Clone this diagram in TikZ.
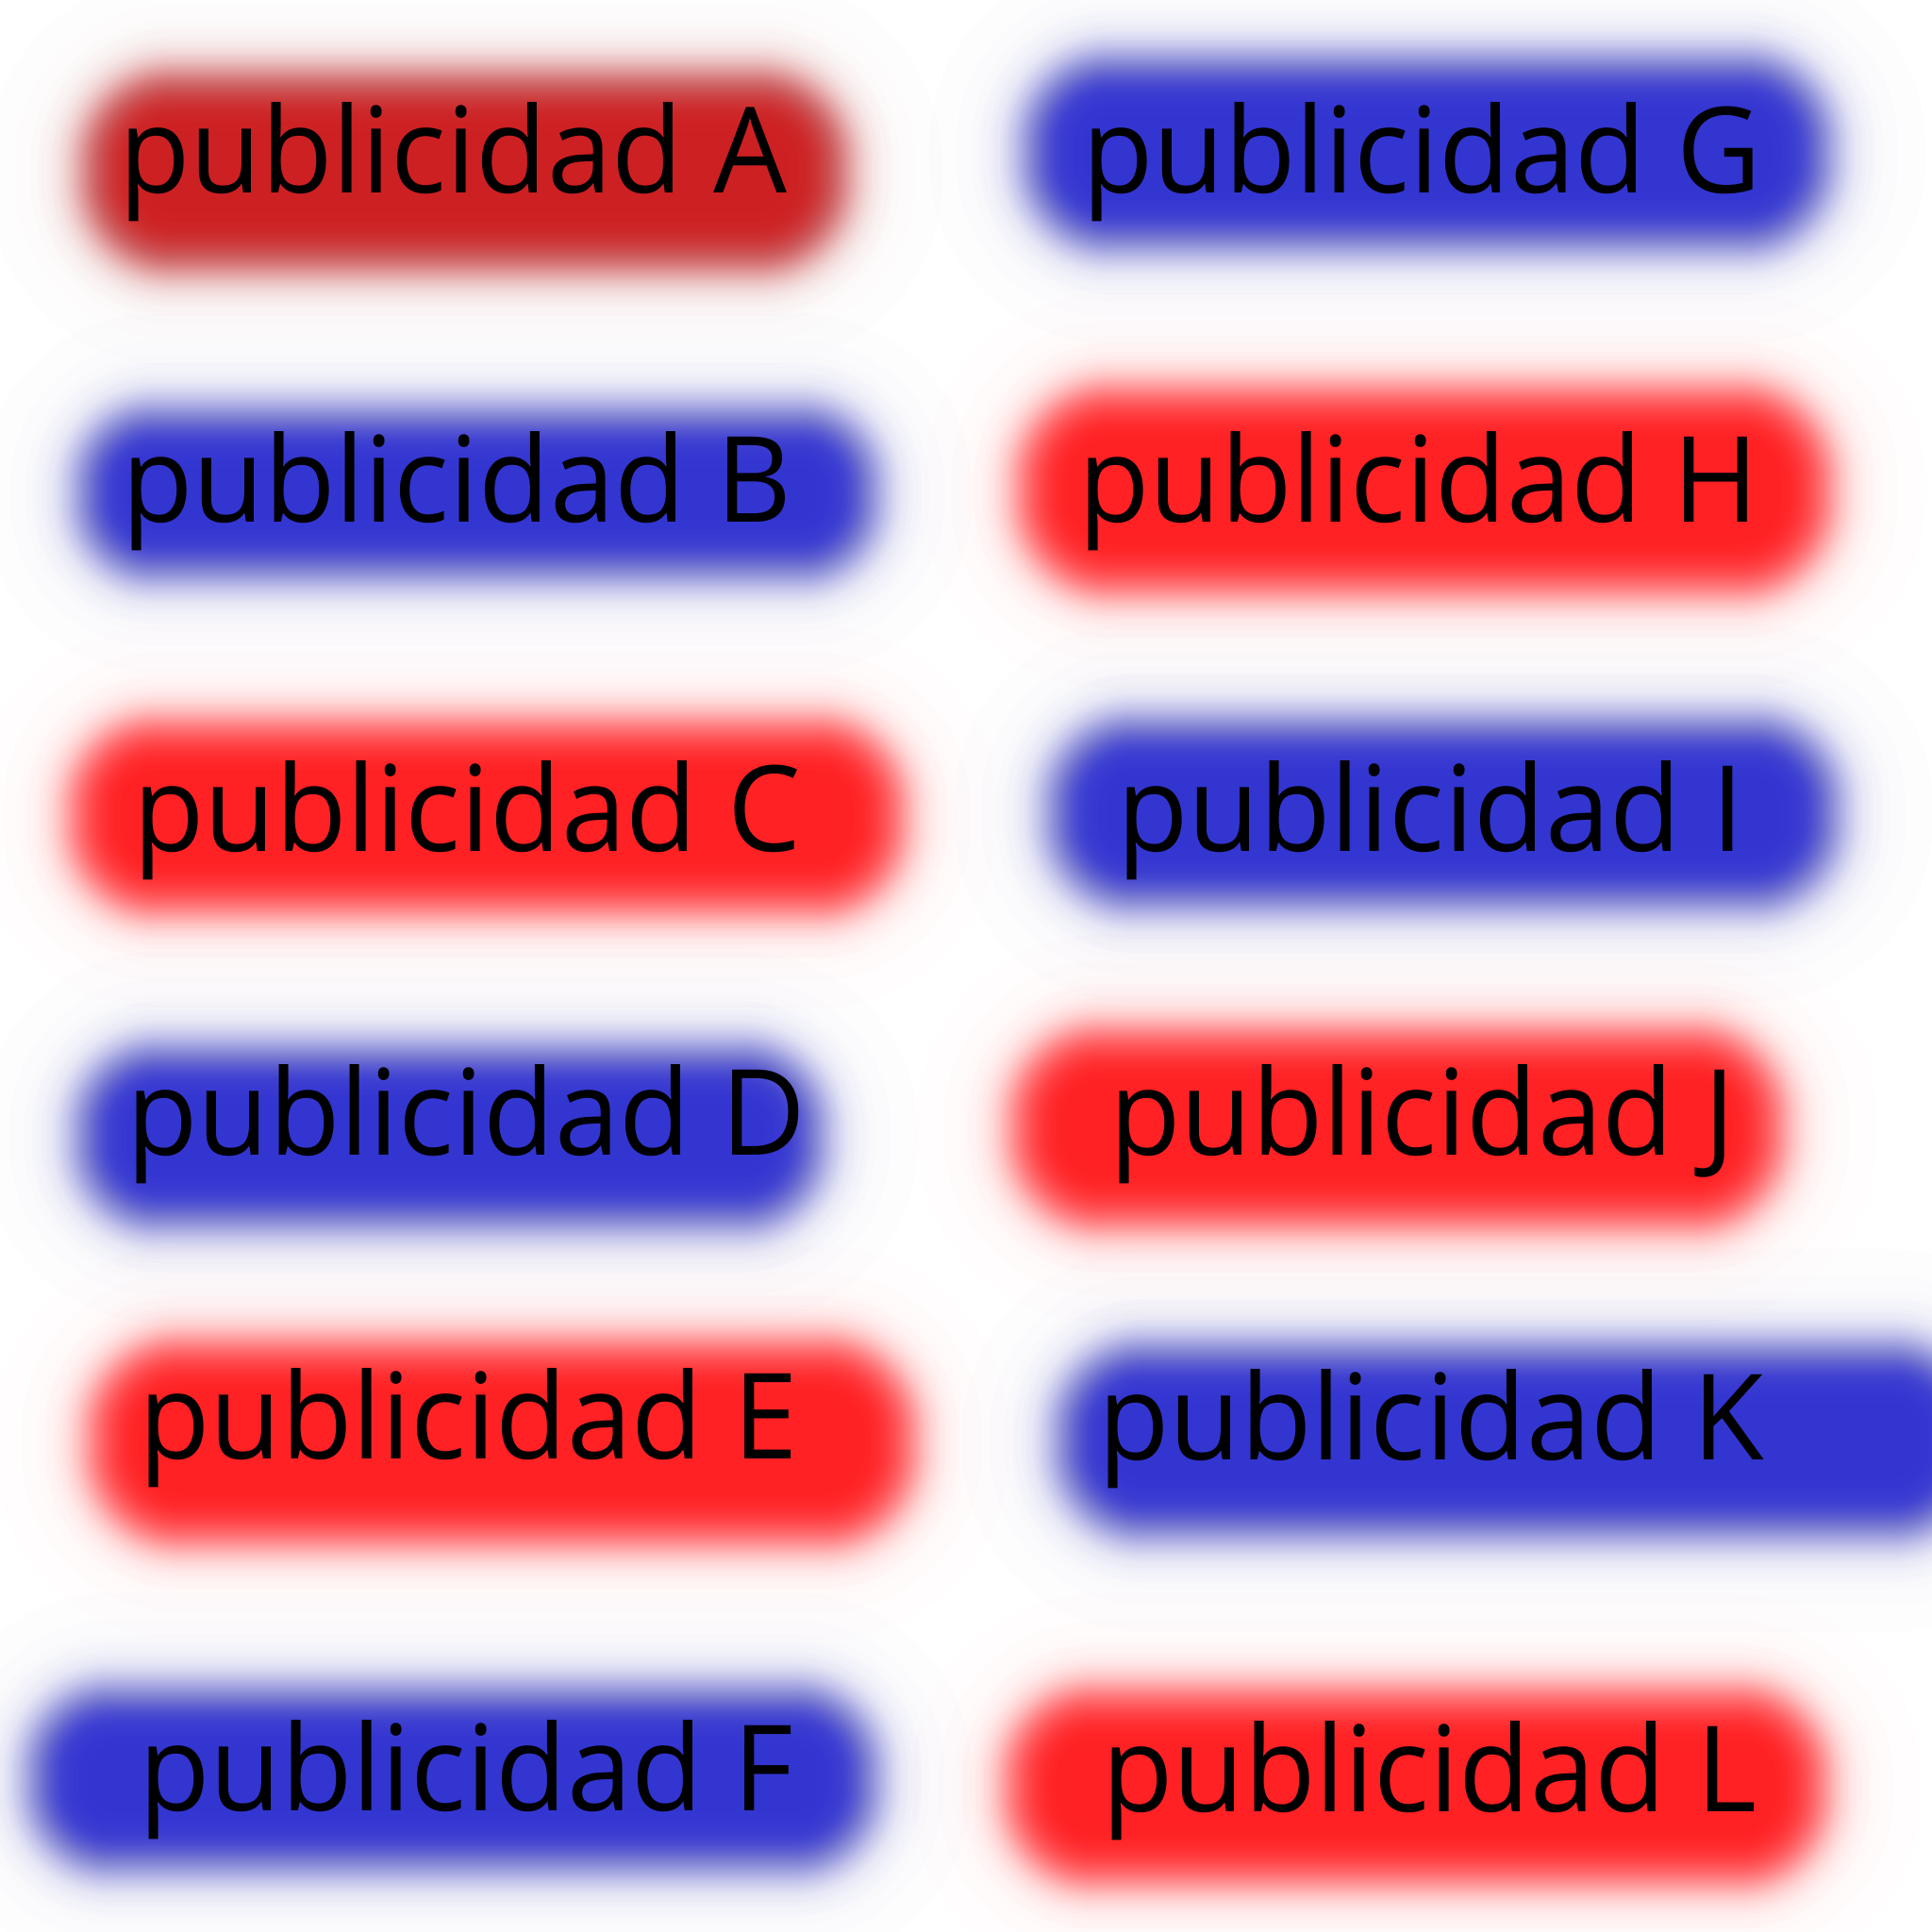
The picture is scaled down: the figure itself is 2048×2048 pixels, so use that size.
\documentclass[tikz,border=0pt]{standalone}
\usepackage{fontspec}
\setmainfont{Open Sans}
\usepackage{graphicx}
\newsavebox\pubbox
\newdimen\pubw
\newdimen\pubh
\newcommand\pubfont{\fontsize{100pt}{100pt}\selectfont}
\definecolor{darkred}{RGB}{205,32,34}
\definecolor{brightred}{RGB}{255,33,36}
\definecolor{adblue}{RGB}{51,53,209}
\newcommand\sig{23}
\newcommand\sigb{55}
% one layer of a blurred stadium: cx, cy, hw, hh, colour, offset, opacity
\newcommand\bloblayer[7]{%
  \pgfmathsetmacro\hx{max(#3+#6,3)}%
  \pgfmathsetmacro\hy{max(#4+#6,3)}%
  \pgfmathsetmacro\rr{min(max(0.9*#4+#6,1),\hy)}%
  \fill[#5, opacity=#7, rounded corners=\rr pt] ({#1-\hx},{#2-\hy}) rectangle ({#1+\hx},{#2+\hy});
}
% blurred stadium: cx, cy, half width, half height, colour
\newcommand\blurblob[5]{%
  % broad faint tail, 20 layers, total 15 percent
  \foreach \z [count=\k] in {1.960,1.440,1.150,0.935,0.755,0.598,0.454,0.319,0.189,0.063,-0.063,-0.189,-0.319,-0.454,-0.598,-0.755,-0.935,-1.150,-1.440,-1.960}{%
    \pgfmathsetmacro\t{\sigb*\z}%
    \pgfmathsetmacro\op{0.0075/(1-(\k-1)*0.0075)}%
    \bloblayer{#1}{#2}{#3}{#4}{#5}{\t}{\op}%
  }%
  % main gaussian-like blur, 60 layers
  \foreach \z [count=\k] in {2.394,1.960,1.732,1.569,1.440,1.331,1.236,1.150,1.073,1.001,0.935,0.872,0.812,0.755,0.701,0.649,0.598,0.548,0.500,0.454,0.408,0.363,0.319,0.275,0.232,0.189,0.147,0.105,0.063,0.021,-0.021,-0.063,-0.105,-0.147,-0.189,-0.232,-0.275,-0.319,-0.363,-0.408,-0.454,-0.500,-0.548,-0.598,-0.649,-0.701,-0.755,-0.812,-0.872,-0.935,-1.001,-1.073,-1.150,-1.236,-1.331,-1.440,-1.569,-1.732,-1.960,-2.394}{%
    \pgfmathsetmacro\t{\sig*\z}%
    \pgfmathsetmacro\op{1/(61-\k)}%
    \bloblayer{#1}{#2}{#3}{#4}{#5}{\t}{\op}%
  }%
}
\tikzset{adlabel/.style={anchor=base west, inner sep=0pt, outer sep=0pt, text=black}}
\AtBeginDocument{%
  \sbox\pubbox{\pubfont publicidad}\global\pubw=\wd\pubbox
  \sbox\pubbox{\pubfont l}\global\pubh=\ht\pubbox
  \pgfmathsetmacro\sxval{598/\pubw}\global\let\sxval\sxval
  \pgfmathsetmacro\syval{96/\pubh}\global\let\syval\syval
}
\newcommand\pubtext[1]{\scalebox{\sxval}[\syval]{\pubfont publicidad #1}}
\begin{document}
\begin{tikzpicture}[x=1pt,y=-1pt]
\fill[white] (0,0) rectangle (2048,2048);
\useasboundingbox (0,0) rectangle (2048,2048);
\clip (0,0) rectangle (2048,2048);
% blobs, left column
\blurblob{493}{182}{398}{98}{darkred}
\blurblob{506}{523}{416}{83}{adblue}
\blurblob{516}{866}{434}{95}{brightred}
\blurblob{477}{1205}{388}{89}{adblue}
\blurblob{532}{1529}{430}{101}{brightred}
\blurblob{480}{1886}{442}{90}{adblue}
% blobs, right column
\blurblob{1513}{162}{420}{95}{adblue}
\blurblob{1510}{520}{423}{102}{brightred}
\blurblob{1530}{862}{411}{93}{adblue}
\blurblob{1481}{1196}{401}{98}{brightred}
\blurblob{1609}{1527}{481}{95}{adblue}
\blurblob{1501}{1894}{427}{96}{brightred}
% labels
\node[adlabel] (a) at (126,204) {\pubtext{A}};
\node[adlabel] (b) at (129,553) {\pubtext{B}};
\node[adlabel] (c) at (141,902) {\pubtext{C}};
\node[adlabel] (d) at (134,1224) {\pubtext{D}};
\node[adlabel] (e) at (147,1546) {\pubtext{E}};
\node[adlabel] (f) at (147,1919) {\pubtext{F}};
\node[adlabel] (g) at (1147,204) {\pubtext{G}};
\node[adlabel] (h) at (1143,553) {\pubtext{H}};
\node[adlabel] (i) at (1184,902) {\pubtext{I}};
\node[adlabel] (j) at (1176,1224) {\pubtext{J}};
\node[adlabel] (k) at (1164,1547) {\pubtext{K}};
\node[adlabel] (l) at (1168,1920) {\pubtext{L}};
\end{tikzpicture}
\end{document}
